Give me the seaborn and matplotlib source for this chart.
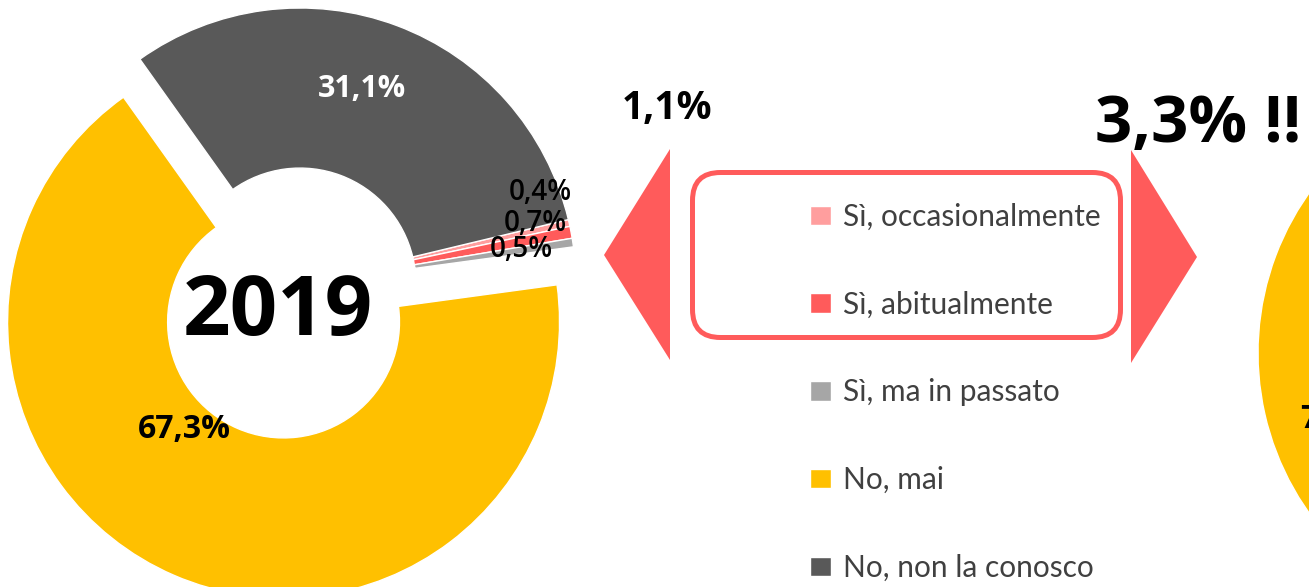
import matplotlib
matplotlib.use('Agg')
import matplotlib.pyplot as plt
from matplotlib.patches import Polygon, FancyBboxPatch
import numpy as np
import seaborn as sns

# dati
categorie = ['Sì, occasionalmente', 'Sì, abitualmente', 'Sì, ma in passato',
             'No, mai', 'No, non la conosco']
valori_2019 = [0.4, 0.7, 0.5, 67.3, 31.1]
valori_dopo = [1.5, 1.8, 0.6, 74.1, 22.0]   # grafico a destra, quasi tutto fuori quadro
colori = ['#FF9E9E', '#FF5B5B', '#A6A6A6', '#FFC000', '#595959']

sns.set_theme(style='white')
plt.rcParams['font.family'] = ['Open Sans', 'DejaVu Sans']

W, H = 1309, 587
fig = plt.figure(figsize=(W / 100, H / 100), dpi=100)
ax = fig.add_axes([0, 0, 1, 1])

R = 276
pal = sns.color_palette(colori)


def fmt(v):
    return f'{v:.1f}'.replace('.', ',') + '%'


def label_at(w, ang, r, txt, **kw):
    cx, cy = w.center
    a = np.deg2rad(ang)
    ax.text(cx + r * R * np.cos(a), cy + r * R * np.sin(a), txt,
            ha='center', va='center', **kw)


# ciambella 2019
wedges, _ = ax.pie(valori_2019, colors=pal, startangle=13.5, counterclock=False,
                   explode=[0, 0, 0, 0.15 * R, 0], center=(300, H - 284), radius=R,
                   wedgeprops=dict(width=0.58 * R, edgecolor='white', linewidth=1))

pos_2019 = [(20.8, 0.93), (14.5, 0.88), (8.8, 0.81), (227.5, 0.53), (72.3, 0.74)]
piccolo = dict(size=20, weight='semibold', color='black')
stili = [piccolo, piccolo, piccolo,
         dict(size=23, weight='bold', color='black'),
         dict(size=22, weight='bold', color='white')]
for w, (ang, r), v, st in zip(wedges, pos_2019, valori_2019, stili):
    label_at(w, ang, r, fmt(v), **st)

ax.text(278, H - 313, '2019', ha='center', va='center', size=60, weight='bold', color='black')

# ciambella successiva (tagliata a destra)
wedges2, _ = ax.pie(valori_dopo, colors=pal, startangle=13.5, counterclock=False,
                    center=(1534, H - 353), radius=R,
                    wedgeprops=dict(width=0.58 * R, edgecolor='white', linewidth=1))
label_at(wedges2[3], 199.4, 0.72, fmt(valori_dopo[3]), size=23, weight='bold', color='black')

# legenda
leg = ax.legend(wedges, categorie, loc='upper left', bbox_to_anchor=(810, H - 203),
                bbox_transform=ax.transData, frameon=False,
                prop=dict(family='Lato', size=21.5), handlelength=0.7, handleheight=0.63,
                handletextpad=0.4, labelspacing=2.0, borderpad=0, borderaxespad=0)
for t in leg.get_texts():
    t.set_color('#404040')

# riquadro e frecce
rosso = '#FF5B5B'
ax.add_patch(FancyBboxPatch((692.5, H - 337.5), 428, 165,
                            boxstyle='round,pad=0,rounding_size=28',
                            fill=False, ec=rosso, lw=3.6))
ax.add_patch(Polygon([(604, H - 255), (670, H - 149), (670, H - 360)], closed=True, color=rosso, lw=0))
ax.add_patch(Polygon([(1197, H - 257), (1131, H - 150), (1131, H - 363)], closed=True, color=rosso, lw=0))

somma_2019 = valori_2019[0] + valori_2019[1]
somma_dopo = valori_dopo[0] + valori_dopo[1]
ax.text(667, H - 108, fmt(somma_2019), ha='center', va='center', size=28, weight='bold', color='black')
ax.text(1095, H - 142, fmt(somma_dopo) + ' !!', ha='left', va='baseline', size=47,
        weight='bold', color='black')

ax.set_xlim(0, W)
ax.set_ylim(0, H)
ax.set_aspect('equal')
ax.axis('off')

fig.savefig('out.png', dpi=100)
